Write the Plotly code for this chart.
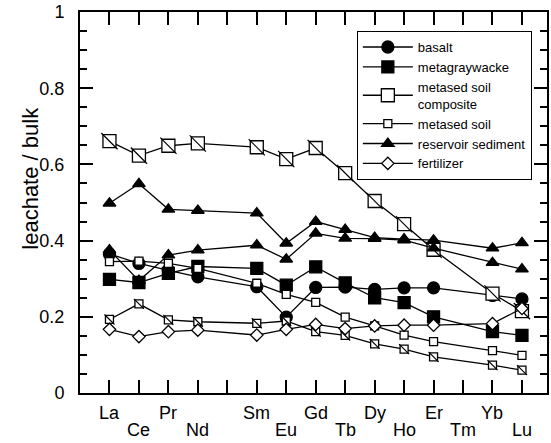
import plotly.graph_objects as go

elements = ["La", "Ce", "Pr", "Nd", "Pm", "Sm", "Eu", "Gd", "Tb", "Dy", "Ho", "Er", "Tm", "Yb", "Lu"]
label_text = ["La", "Ce", "Pr", "Nd", "", "Sm", "Eu", "Gd", "Tb", "Dy", "Ho", "Er", "Tm", "Yb", "Lu"]
label_low = [False, True, False, True, False, False, True, False, True, False, True, False, True, False, True]

basalt = [0.365, 0.340, 0.322, 0.305, None, 0.279, 0.199, 0.277, 0.278, 0.272, 0.276, 0.276, None, 0.256, 0.247]
metagraywacke = [0.298, 0.290, 0.314, 0.332, None, 0.327, 0.283, 0.331, 0.289, 0.250, 0.237, 0.200, None, 0.161, 0.151]
composite_a = [0.661, 0.623, 0.649, 0.655, None, 0.645, 0.614, 0.643, 0.577, 0.504, 0.443, 0.376, None, 0.261, 0.215]
composite_b = [0.193, 0.234, 0.192, 0.187, None, 0.183, 0.189, 0.161, 0.151, 0.129, 0.115, 0.095, None, 0.073, 0.060]
metased_soil = [0.345, 0.346, 0.340, 0.327, None, 0.288, 0.259, 0.238, 0.199, 0.176, 0.152, 0.135, None, 0.111, 0.099]
reservoir_a = [0.498, 0.549, 0.482, 0.479, None, 0.472, 0.393, 0.450, 0.429, 0.408, 0.404, 0.401, None, 0.380, 0.394]
reservoir_b = [0.375, 0.295, 0.362, 0.375, None, 0.388, 0.351, 0.419, 0.406, 0.405, 0.401, 0.380, None, 0.342, 0.325]
fertilizer = [0.167, 0.148, 0.161, 0.165, None, 0.152, 0.167, 0.180, 0.169, 0.176, 0.178, 0.178, None, 0.182, 0.222]

xs = list(range(len(elements)))
FONT = "Liberation Sans, Arial, Helvetica, sans-serif"
LW = 1.3

fig = go.Figure()


def add(y, name, symbol, size, fill, show, rank):
    fig.add_trace(go.Scatter(
        x=xs, y=y, mode="lines+markers", name=name, connectgaps=True,
        line=dict(color="black", width=LW),
        marker=dict(symbol=symbol, size=size, color=fill,
                    line=dict(color="black", width=LW)),
        showlegend=show, legendrank=rank, legendgroup=name))


def add_diag(y, size):
    pts_x = [x for x, v in zip(xs, y) if v is not None]
    pts_y = [v for v in y if v is not None]
    fig.add_trace(go.Scatter(
        x=pts_x, y=pts_y, mode="markers", showlegend=False, hoverinfo="skip",
        marker=dict(symbol="line-nw-open", size=size * 1.25, color="black",
                    line=dict(color="black", width=1.2))))


add(basalt, "basalt", "circle", 12, "black", True, 1)
add(metagraywacke, "metagraywacke", "square", 12, "black", True, 2)
add(metased_soil, "metased soil", "square", 8, "white", True, 4)
add(composite_b, "metased soil<br>composite", "square", 8, "white", False, 3)
add_diag(composite_b, 8)
add(composite_a, "metased soil<br>composite", "square", 13, "white", True, 3)
add_diag(composite_a, 13)
add(reservoir_b, "reservoir sediment", "triangle-up", 11, "black", False, 5)
add(reservoir_a, "reservoir sediment", "triangle-up", 11, "black", True, 5)
add(fertilizer, "fertilizer", "diamond", 9.5, "white", True, 6)

annotations = []
for i, (t, low) in enumerate(zip(label_text, label_low)):
    if not t:
        continue
    annotations.append(dict(x=i, y=-0.097 if low else -0.052, xref="x", yref="paper",
                            text=t, showarrow=False, yanchor="middle", xanchor="center",
                            font=dict(family=FONT, size=18, color="black")))
annotations.append(dict(x=-0.1066, y=0.563, xref="paper", yref="paper",
                        text="leachate / bulk", textangle=-90, showarrow=False,
                        xanchor="center", yanchor="middle",
                        font=dict(family=FONT, size=22, color="black")))

fig.update_layout(
    width=551, height=443,
    margin=dict(l=80, r=2, t=11, b=50),
    paper_bgcolor="white", plot_bgcolor="white",
    font=dict(family=FONT, color="black"),
    annotations=annotations,
    shapes=[dict(type="rect", xref="paper", yref="paper",
                 x0=0.599, x1=0.957, y0=0.568, y1=0.942,
                 fillcolor="black", line=dict(width=0), layer="above")],
    legend=dict(x=0.5928, y=0.950, xanchor="left", yanchor="top",
                bgcolor="white", bordercolor="black", borderwidth=1,
                font=dict(family=FONT, size=13, color="black"),
                itemwidth=50, tracegroupgap=0),
    xaxis=dict(range=[-1, 14.85], tickvals=xs, ticktext=[""] * len(xs),
               showticklabels=False, ticks="inside", ticklen=13, tickwidth=2,
               tickcolor="black", showline=True, linecolor="black", linewidth=2,
               mirror="allticks", showgrid=False, zeroline=False),
    yaxis=dict(range=[0, 1], tickvals=[0, 0.2, 0.4, 0.6, 0.8, 1],
               ticktext=["0", "0.2", "0.4", "0.6", "0.8", "1"],
               ticks="inside", ticklen=13, tickwidth=2, tickcolor="black",
               tickfont=dict(family=FONT, size=18, color="black"),
               ticklabelstandoff=10,
               minor=dict(dtick=0.05, ticks="inside", ticklen=7, tickwidth=2,
                          tickcolor="black", showgrid=False),
               showline=True, linecolor="black", linewidth=2,
               mirror="allticks", showgrid=False, zeroline=False),
)

fig.write_html("out.html")
